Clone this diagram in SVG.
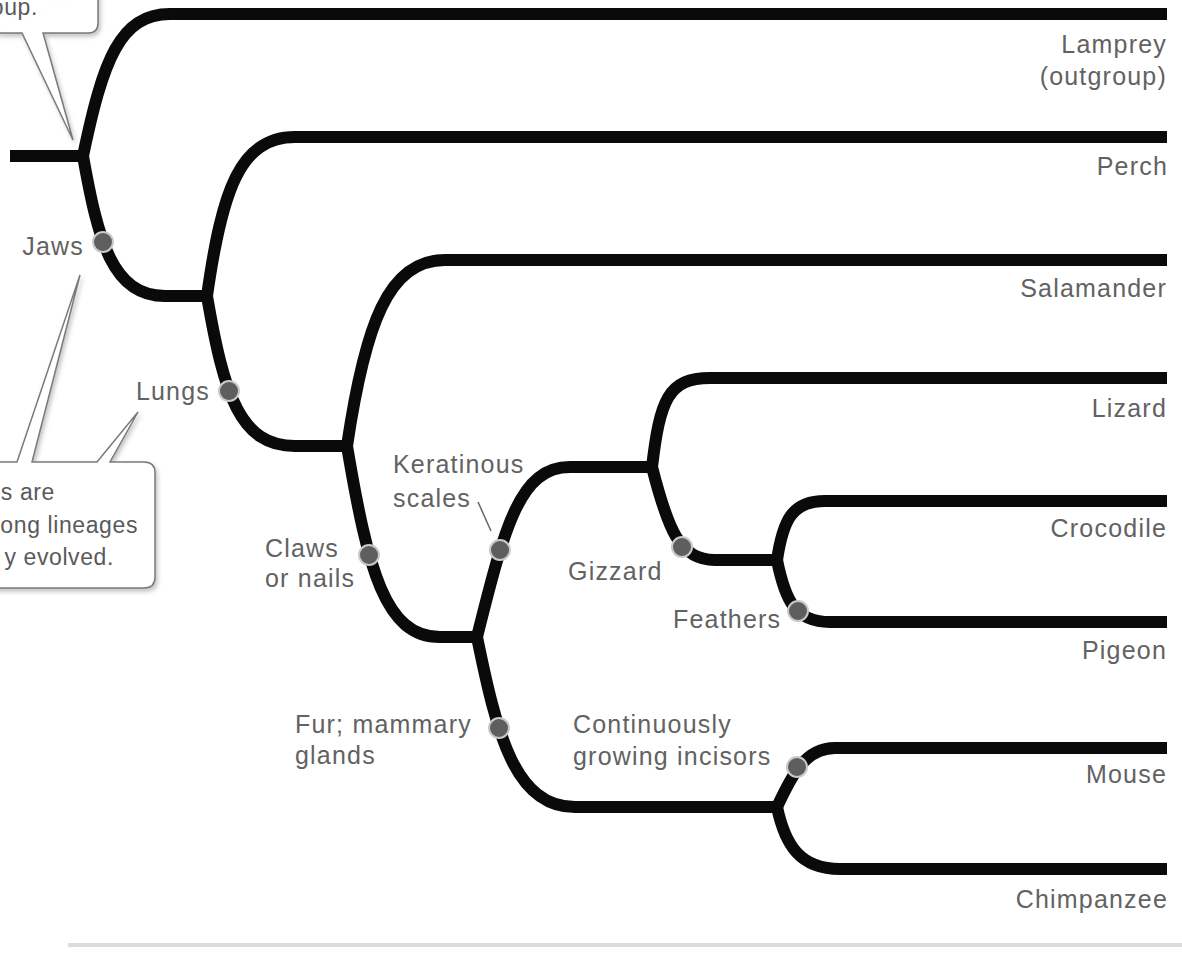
<svg xmlns="http://www.w3.org/2000/svg" width="1182" height="958" viewBox="0 0 1182 958">
<style>
.br{fill:none;stroke:#0a0a0a;stroke-width:12;stroke-linejoin:round}
.dot{fill:#5e5e5e;stroke:#c9c9c9;stroke-width:2}
.lbl{font-family:"Liberation Sans",Arial,sans-serif;font-size:25px;fill:#626262;letter-spacing:1.2px}
.ct{font-family:"Liberation Sans",Arial,sans-serif;font-size:23px;fill:#5a5a5a;letter-spacing:0.6px}
.r{text-anchor:end}
.co{fill:#fff;stroke:#7a7a7a;stroke-width:1.5;stroke-linejoin:miter}
.lead{fill:none;stroke:#666;stroke-width:1.5}
</style>
<defs>
<filter id="sh" x="-20%" y="-20%" width="140%" height="140%">
<feDropShadow dx="2" dy="3" stdDeviation="2" flood-color="#888" flood-opacity="0.5"/>
</filter>
</defs>
<rect width="1182" height="958" fill="#fff"/>
<rect x="68" y="943" width="1114" height="4" fill="#dcdcdc"/>

<g id="callout-top">
<path class="co" filter="url(#sh)" d="M-10,33 L22,33 L73,140 L43,33 L88,33 Q98,33 98,23 L98,-10"/>
<text class="ct r" x="38" y="15">oup.</text>
</g>

<g id="callout-bottom">
<path class="co" filter="url(#sh)" d="M-10,462 L17,462 L80,275 L32,462 L97,462 L138,412 L110,462 L144,462 Q155,462 155,473 L155,577 Q155,588 144,588 L-10,588"/>
<text class="ct r" x="55" y="500">s are</text>
<text class="ct r" x="138" y="533">ong lineages</text>
<text class="ct r" x="114" y="565">y evolved.</text>
</g>

<g id="connectors">
<path class="br" d="M10,156 L83,156"/>
<path class="br" d="M83,156 C103,60 120,14 170,14 L1167,14"/>
<path class="br" d="M83,156 C98,240 112,296 165,296 L207,296"/>
<path class="br" d="M207,296 C222,190 240,137 295,137 L1167,137"/>
<path class="br" d="M207,296 C224,395 240,446 295,446 L347,446"/>
<path class="br" d="M347,446 C365,325 388,260 445,260 L1167,260"/>
<path class="br" d="M347,446 C368,570 385,637 440,637 L477,637"/>
<path class="br" d="M477,637 C505,525 520,467 570,467 L652,467"/>
<path class="br" d="M477,637 C497,735 515,807 575,807 L777,807"/>
<path class="br" d="M652,467 C660,400 668,378 710,378 L1167,378"/>
<path class="br" d="M652,467 C668,530 680,560 715,560 L777,560"/>
<path class="br" d="M777,560 C783,520 792,501 825,501 L1167,501"/>
<path class="br" d="M777,560 C785,600 795,622 830,622 L1167,622"/>
<path class="br" d="M777,807 C792,775 805,748 835,748 L1167,748"/>
<path class="br" d="M777,807 C785,845 800,869 840,869 L1167,869"/>
</g>

<g id="leaf-lamprey"><text class="lbl r" x="1167" y="53">Lamprey</text><text class="lbl r" x="1167" y="85">(outgroup)</text></g>
<g id="leaf-perch"><text class="lbl r" x="1168" y="175">Perch</text></g>
<g id="leaf-salamander"><text class="lbl r" x="1167" y="297">Salamander</text></g>
<g id="leaf-lizard"><text class="lbl r" x="1167" y="417">Lizard</text></g>
<g id="leaf-crocodile"><text class="lbl r" x="1167" y="537">Crocodile</text></g>
<g id="leaf-pigeon"><text class="lbl r" x="1167" y="659">Pigeon</text></g>
<g id="leaf-mouse"><text class="lbl r" x="1167" y="783">Mouse</text></g>
<g id="leaf-chimpanzee"><text class="lbl r" x="1168" y="908">Chimpanzee</text></g>

<g id="char-jaws"><circle class="dot" cx="103" cy="242" r="10"/><text class="lbl r" x="84" y="255">Jaws</text></g>
<g id="char-lungs"><circle class="dot" cx="229" cy="391" r="10"/><text class="lbl r" x="210" y="400">Lungs</text></g>
<g id="char-claws"><circle class="dot" cx="369" cy="555" r="10"/><text class="lbl" x="265" y="557">Claws</text><text class="lbl" x="265" y="587">or nails</text></g>
<g id="char-keratinous"><path class="lead" d="M478,502 L491,531"/><circle class="dot" cx="500" cy="550" r="10"/><text class="lbl" x="393" y="473">Keratinous</text><text class="lbl" x="393" y="507">scales</text></g>
<g id="char-gizzard"><circle class="dot" cx="682" cy="547" r="10"/><text class="lbl" x="568" y="580">Gizzard</text></g>
<g id="char-feathers"><circle class="dot" cx="798" cy="611" r="10"/><text class="lbl" x="673" y="628">Feathers</text></g>
<g id="char-fur"><circle class="dot" cx="499" cy="728" r="10"/><text class="lbl" x="295" y="733">Fur; mammary</text><text class="lbl" x="295" y="764">glands</text></g>
<g id="char-incisors"><circle class="dot" cx="797" cy="767" r="10"/><text class="lbl" x="573" y="733">Continuously</text><text class="lbl" x="573" y="765">growing incisors</text></g>
</svg>
